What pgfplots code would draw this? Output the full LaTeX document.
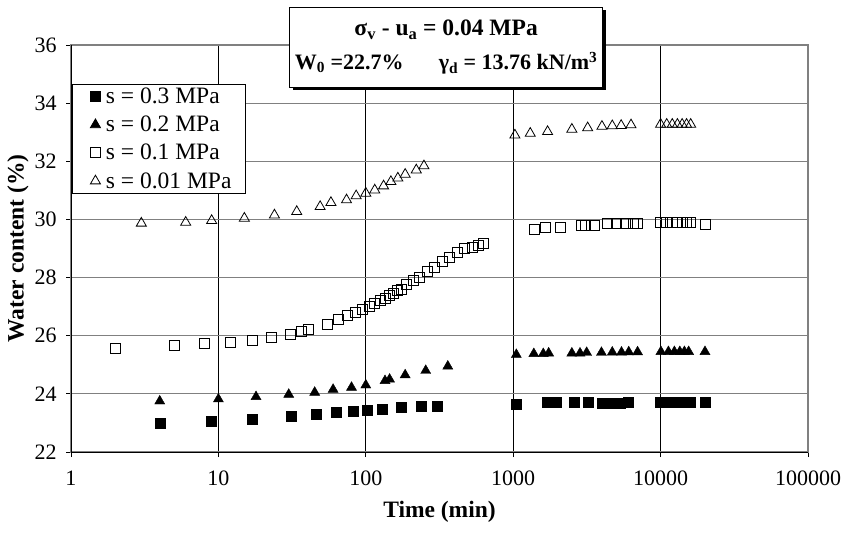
\documentclass[border=0pt]{standalone}
\usepackage{fontspec}
\setmainfont{Liberation Serif}
\usepackage{pgfplots}
\pgfplotsset{compat=1.18}
\usetikzlibrary{shadows}
\begin{document}
\begin{tikzpicture}
\path[use as bounding box] (-71bp,-82bp) rectangle (775bp,452bp);
\begin{axis}[
  at={(0,0)}, anchor=south west,
  scale only axis, width=737bp, height=407bp,
  xmode=log, xmin=1, xmax=100000,
  ymin=22, ymax=36, ytick={22,24,...,36},
  xtick={1,10,100,1000,10000,100000},
  xticklabels={1,10,100,1000,10000,100000},
  xminorticks=false,
  xmajorgrids, ymajorgrids,
  x grid style={black, line width=0.8bp},
  y grid style={gray, line width=1.2bp},
  axis line style={draw=gray, line width=1.2bp},
  tick align=outside, major tick length=5bp,
  xtick pos=bottom, ytick pos=left,
  tick style={black, line width=0.8bp},
  ticklabel style={font=\fontsize{22bp}{26bp}\selectfont},
  xticklabel style={yshift=-10bp},
  yticklabel style={xshift=-6bp},
  /pgf/number format/assume math mode=true,
  xlabel={\textbf{Time (min)}},
  ylabel={\textbf{Water content (\%)}},
  label style={font=\fontsize{23.5bp}{28bp}\selectfont},
  xlabel style={at={(rel axis cs:0.5,0)}, anchor=center, yshift=-60bp},
  ylabel style={at={(rel axis cs:0,0.5)}, anchor=center, yshift=53bp},
  legend style={at={(rel axis cs:0.0014,0.634)}, anchor=south west,
    draw=black, line width=0.8bp, fill=white,
    font=\fontsize{23.5bp}{28bp}\selectfont, row sep=8bp,
    inner xsep=12bp, inner ysep=2.5bp,
    nodes={inner sep=1.5bp}},
  legend cell align=left,
  legend image code/.code={\path[draw=none] (0bp,0bp) -- (20bp,0bp);
    \draw[#1] plot coordinates {(11bp,0bp)};},
  clip=false,
]
\addplot[only marks, mark=square*, mark size=5bp, black] coordinates {
(4,22.99)(9,23.05)(17,23.13)(31,23.22)(46,23.30)(63,23.36)(82,23.41)(103,23.45)
(130,23.48)(175,23.53)(239,23.57)(304,23.59)
(1050,23.65)(1700,23.70)(1950,23.70)(2600,23.70)(3250,23.70)(4000,23.69)(4600,23.69)
(5300,23.69)(6000,23.70)(10000,23.71)(11000,23.70)(12000,23.70)(13000,23.70)
(14000,23.70)(15000,23.70)(16000,23.70)(20000,23.70)
};
\addlegendentry{s = 0.3 MPa}
\addplot[only marks, mark=triangle*, mark size=5.8bp, black] coordinates {
(4,23.75)(10,23.82)(18,23.90)(30,23.98)(45,24.05)(60,24.15)(80,24.22)(100,24.30)
(135,24.45)(145,24.50)(185,24.65)(255,24.80)(360,24.95)
(1050,25.35)(1380,25.38)(1600,25.38)(1740,25.40)(2500,25.40)(2840,25.40)(3150,25.42)
(3970,25.42)(4700,25.43)(5430,25.43)(6080,25.44)(6980,25.44)
(10050,25.45)(11300,25.45)(12400,25.45)(13500,25.45)(14500,25.45)(15500,25.45)(20000,25.45)
};
\addlegendentry{s = 0.2 MPa}
\addplot[only marks, mark=square, mark size=5bp, black, line width=0.8bp] coordinates {
(2,25.58)(5,25.66)(8,25.74)(12,25.77)(17,25.84)(23,25.93)(31,26.05)(36.5,26.14)(41,26.22)
(55,26.4)(65,26.55)(75,26.7)(85,26.8)(95,26.9)(105,27.0)(115,27.1)(125,27.2)(135,27.3)
(145,27.4)(155,27.45)(165,27.55)(175,27.6)(190,27.75)(210,27.9)(230,28.0)(260,28.2)
(290,28.35)(330,28.55)(370,28.7)(420,28.85)(470,29.0)(530,29.05)(580,29.1)(632,29.16)
(1400,29.66)(1650,29.72)(2080,29.73)(2900,29.81)(3090,29.81)(3575,29.81)(4360,29.87)
(5020,29.87)(5780,29.87)(6520,29.87)(7000,29.87)
(10000,29.89)(11000,29.89)(12000,29.89)(13000,29.89)(14000,29.89)(15000,29.89)(16000,29.89)
(20000,29.84)
};
\addlegendentry{s = 0.1 MPa}
\addplot[only marks, mark=triangle, mark size=5.8bp, black, line width=0.8bp] coordinates {
(3,29.87)(6,29.90)(9,29.96)(15,30.04)(24,30.15)(34,30.27)(49,30.44)(58,30.58)(74,30.67)
(86,30.81)(100,30.90)(115,31.01)(132,31.15)(148,31.30)(165,31.42)(185,31.55)(220,31.70)(248,31.84)
(1027,32.90)(1305,32.96)(1711,33.02)(2500,33.10)(3200,33.15)(4000,33.20)(4700,33.22)
(5400,33.23)(6300,33.25)
(10000,33.27)(11000,33.27)(12000,33.27)(13000,33.27)(14000,33.27)(15000,33.27)(16000,33.27)
};
\addlegendentry{s = 0.01 MPa}
\draw[black, line width=0.8bp] (rel axis cs:0,1) -- (rel axis cs:0,0) -- (rel axis cs:1,0);
\node[draw=black, line width=1bp, fill=white, align=center,
  minimum width=313bp, minimum height=80bp, inner sep=1bp,
  font=\fontsize{22bp}{34bp}\selectfont\bfseries,
  drop shadow={shadow xshift=3bp, shadow yshift=-3bp, fill=black, opacity=1}]
  at (rel axis cs:0.509,0.995)
  {{\fontsize{23.5bp}{34bp}\selectfont σ\textsubscript{v} - u\textsubscript{a} = 0.04 MPa}\\
   W\textsubscript{0} =22.7\%\hspace{1.6em}γ\textsubscript{d} = 13.76 kN/m\textsuperscript{3}};
\end{axis}
\end{tikzpicture}
\end{document}
